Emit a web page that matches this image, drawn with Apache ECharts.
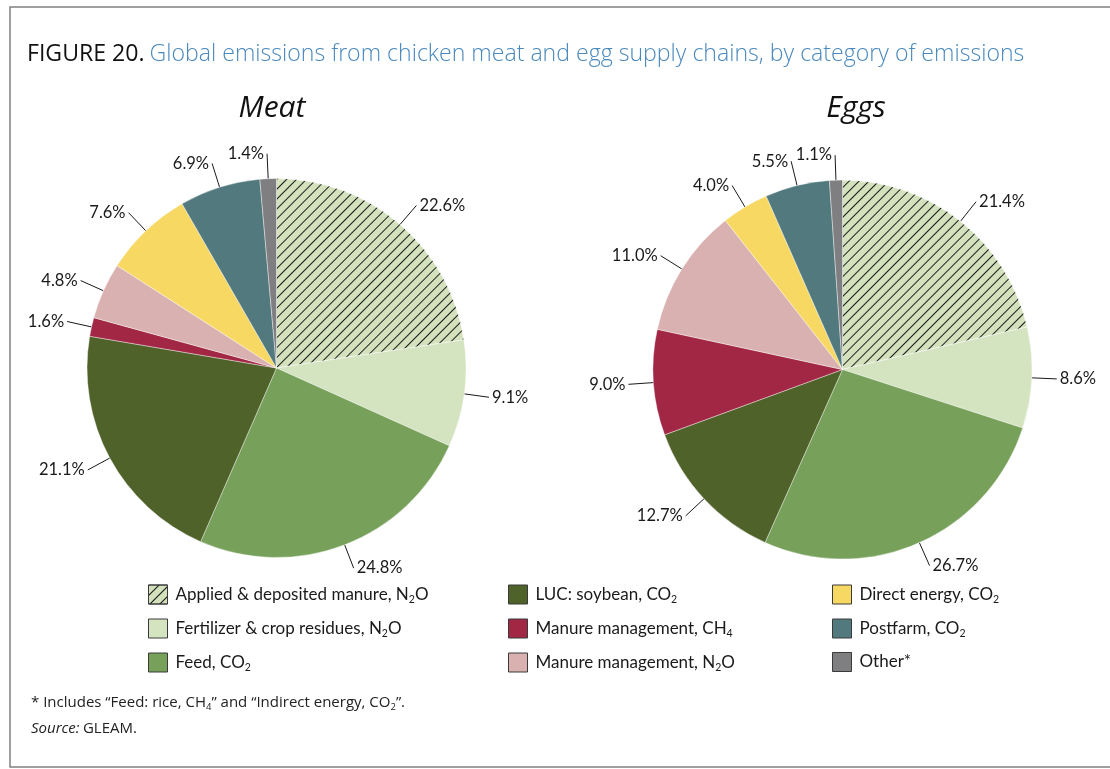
<!DOCTYPE html>
<html>
<head>
<meta charset="utf-8">
<script src="https://cdn.jsdelivr.net/npm/echarts@6/dist/echarts.min.js"></script>
<style>
html,body{margin:0;padding:0;background:#fff;}
#chart{width:1110px;height:769px;}
</style>
</head>
<body>
<div id="chart"></div>
<script>
const categories = ['Applied & deposited manure, N2O', 'Fertilizer & crop residues, N2O', 'Feed, CO2',
  'LUC: soybean, CO2', 'Manure management, CH4', 'Manure management, N2O',
  'Direct energy, CO2', 'Postfarm, CO2', 'Other*'];
const meatValues = [22.6, 9.1, 24.8, 21.1, 1.6, 4.8, 7.6, 6.9, 1.4];
const eggValues = [21.4, 8.6, 26.7, 12.7, 9.0, 11.0, 4.0, 5.5, 1.1];
const colors = ['#d3e2bd', '#d4e3c0', '#77a05a', '#4f6229', '#a12745', '#d9b1b0', '#f6d863', '#52797d', '#7f7f81'];
const pieTitles = ['Meat', 'Eggs'];

const FONT = 'Lato';
const hatch = {
  symbol: 'rect', symbolSize: 1, color: '#1a1a1a',
  dashArrayX: [1, 0], dashArrayY: [1, 6], rotation: -Math.PI / 4
};

function buildData(values) {
  return values.map((v, i) => {
    const style = { color: colors[i] };
    if (i === 0) style.decal = hatch;
    return { name: categories[i], value: v, itemStyle: style };
  });
}

function richName(name) {
  return name.replace(/(N|O|H)(\d)/g, (m, a, d) => a + '}{s|' + d + '}{t|');
}

function pieSeries(values, center) {
  return {
    type: 'pie',
    center: center,
    radius: 189.5,
    startAngle: 90,
    clockwise: true,
    avoidLabelOverlap: false,
    data: buildData(values),
    itemStyle: { borderColor: '#ffffff', borderWidth: 0.4 },
    label: {
      show: true,
      position: 'outside',
      formatter: p => p.value.toFixed(1) + '%',
      fontFamily: FONT, fontSize: 16.5, color: '#1a1a1a',
      distanceToLabelLine: 3
    },
    labelLine: { show: true, length: 25, length2: 0, lineStyle: { color: '#1a1a1a', width: 1 } },
    emphasis: { disabled: true },
    silent: true
  };
}

function legendCol(names, left) {
  return {
    orient: 'vertical', left: left, top: 584, padding: 0,
    itemWidth: 19, itemHeight: 19, itemGap: 13,
    icon: 'rect',
    selectedMode: false,
    data: names,
    itemStyle: { borderColor: '#3a3a3a', borderWidth: 1 },
    formatter: n => '{t|' + richName(n) + '}',
    textStyle: {
      fontFamily: FONT, fontSize: 17, color: '#1a1a1a', padding: [0, 0, 0, 3],
      rich: {
        t: { fontFamily: FONT, fontSize: 17, color: '#1a1a1a', lineHeight: 19 },
        s: { fontFamily: FONT, fontSize: 10.5, color: '#1a1a1a', lineHeight: 9, padding: [10, 0, 0, 0] }
      }
    }
  };
}

const chart = echarts.init(document.getElementById('chart'), null, { renderer: 'canvas' });
chart.setOption({
  animation: false,
  backgroundColor: '#ffffff',
  title: [
    {
      left: 22, top: 38,
      text: '{a|FIGURE 20.} {b|Global emissions from chicken meat and egg supply chains, by category of emissions}',
      textStyle: {
        rich: {
          a: { fontFamily: 'Open Sans', fontSize: 23.1, color: '#111111', fontWeight: 'normal' },
          b: { fontFamily: 'Open Sans', fontSize: 23.1, color: '#4a89be', fontWeight: 300 }
        }
      }
    },
    { left: 267, top: 88, textAlign: 'center', text: pieTitles[0],
      textStyle: { fontFamily: 'Open Sans', fontStyle: 'italic', fontWeight: 'normal', fontSize: 30, color: '#111' } },
    { left: 851, top: 88, textAlign: 'center', text: pieTitles[1],
      textStyle: { fontFamily: 'Open Sans', fontStyle: 'italic', fontWeight: 'normal', fontSize: 30, color: '#111' } }
  ],
  legend: [
    legendCol(categories.slice(0, 3), 148),
    legendCol(categories.slice(3, 6), 508),
    legendCol(categories.slice(6, 9), 832)
  ],
  graphic: [
    { type: 'polyline', silent: true,
      shape: { points: [[1110, 7], [10, 7], [10, 767], [1110, 767]] },
      style: { stroke: '#808080', lineWidth: 1.5, fill: null } },
    { type: 'text', left: 31, top: 693, silent: true,
      style: {
        text: '{t|* Includes \u201cFeed: rice, CH}{s|4}{t|\u201d and \u201cIndirect energy, CO}{s|2}{t|\u201d.}',
        rich: {
          t: { fontFamily: 'Open Sans', fontSize: 15, fill: '#222', lineHeight: 20 },
          s: { fontFamily: 'Open Sans', fontSize: 9.5, fill: '#222', lineHeight: 20, padding: [9, 0, 0, 0] }
        }
      } },
    { type: 'text', left: 31, top: 721, silent: true,
      style: {
        text: '{i|Source:} {t|GLEAM.}',
        rich: {
          i: { fontFamily: 'Open Sans', fontStyle: 'italic', fontSize: 15, fill: '#222', lineHeight: 20 },
          t: { fontFamily: 'Open Sans', fontSize: 15, fill: '#222', lineHeight: 20 }
        }
      } }
  ],
  series: [
    pieSeries(meatValues, [276.5, 368]),
    pieSeries(eggValues, [842.5, 369.5])
  ]
});
</script>
</body>
</html>
